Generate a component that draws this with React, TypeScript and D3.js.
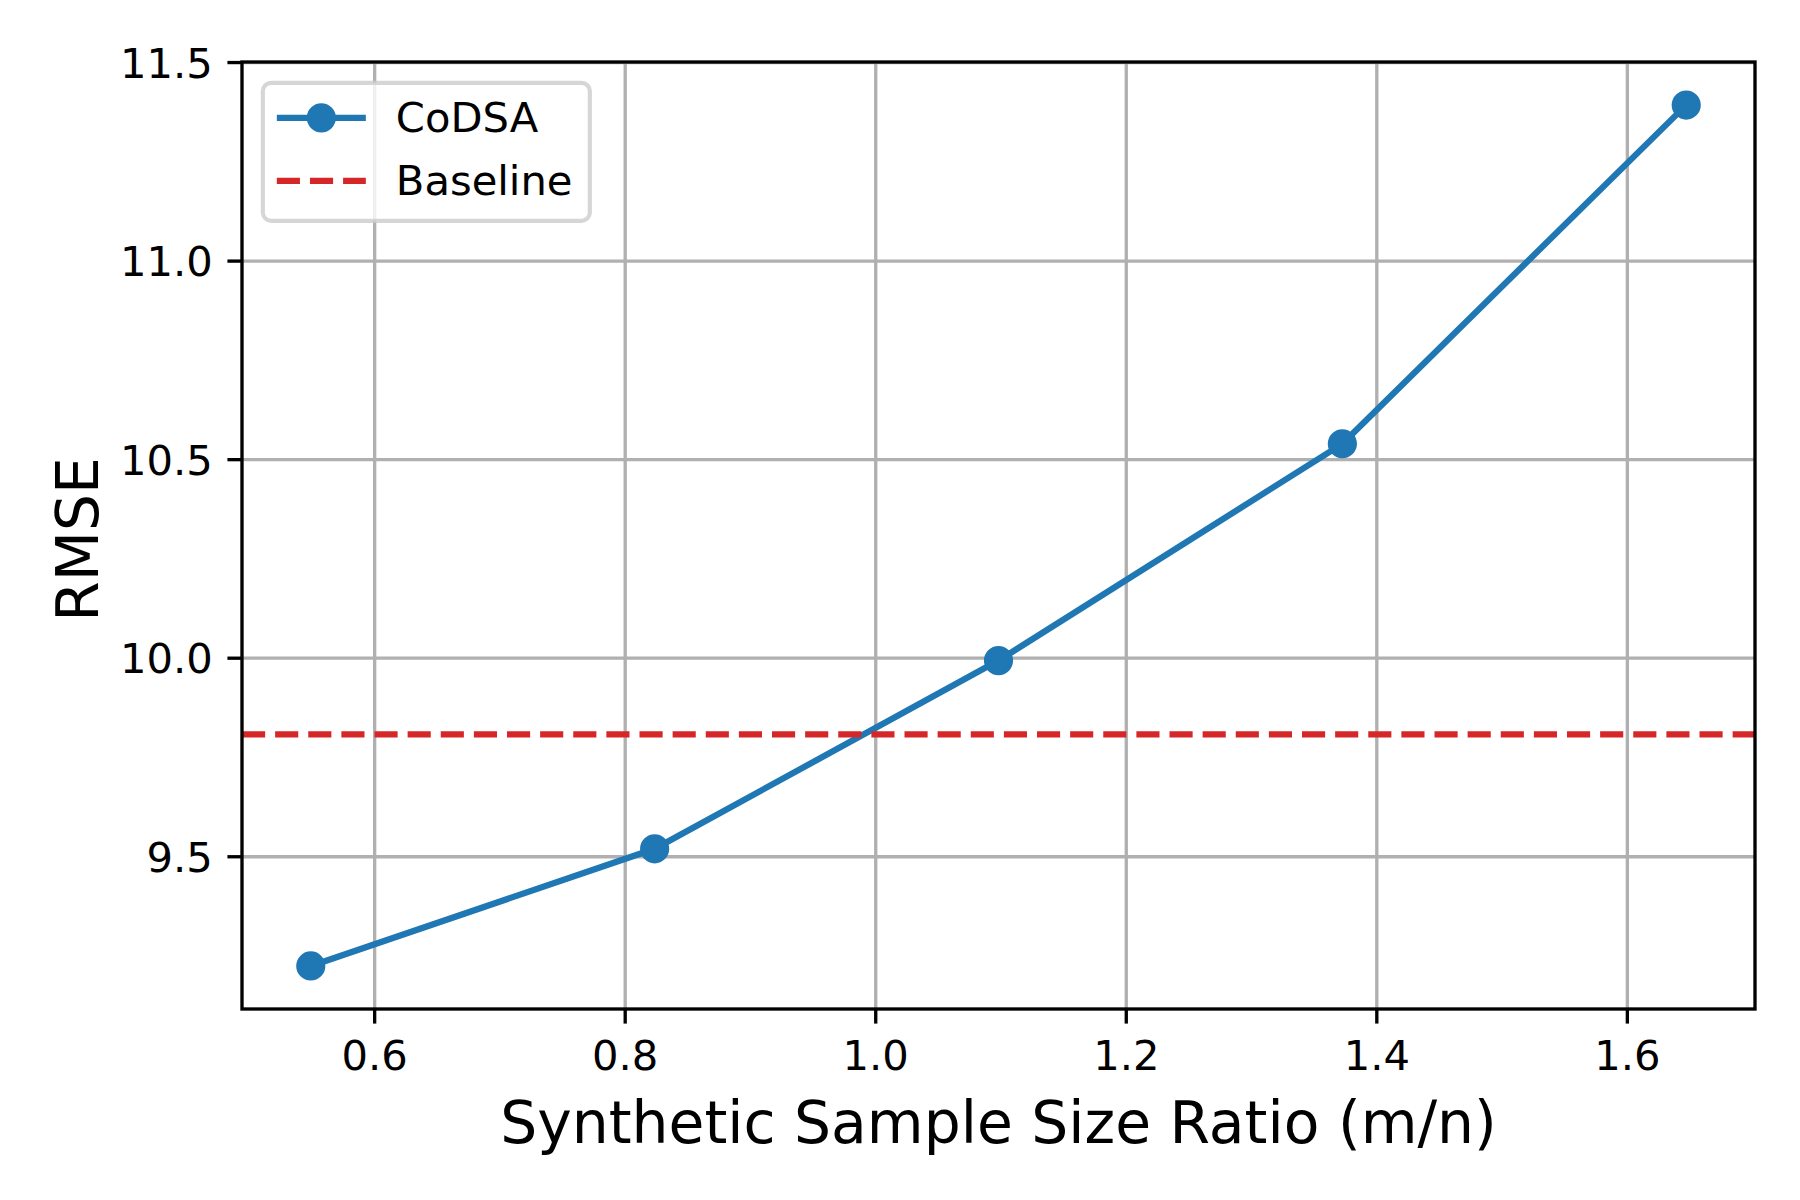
import React from "react";
import * as d3 from "d3";

const ratios = [0.549, 0.8235, 1.098, 1.3725, 1.647];
const codsaRmse = [9.225, 9.52, 9.994, 10.54, 11.393];
const baselineRmse = 9.808;
const xTicks = [0.6, 0.8, 1.0, 1.2, 1.4, 1.6];
const yTicks = [9.5, 10.0, 10.5, 11.0, 11.5];
const seriesNames = ["CoDSA", "Baseline"];
const xLabel = "Synthetic Sample Size Ratio (m/n)";
const yLabel = "RMSE";

const W = 1800;
const H = 1200;
const M = { left: 242, right: 1755, top: 62, bottom: 1009 };
const BLUE = "#1f77b4";
const RED = "#d62728";
const FONT = "DejaVu Sans, sans-serif";
const pt = 300 / 72;

function padded(ext: [number, number]): [number, number] {
  const s = ext[1] - ext[0];
  return [ext[0] - 0.05 * s, ext[1] + 0.05 * s];
}

export default function App() {
  const x = d3.scaleLinear().domain(padded(d3.extent(ratios) as [number, number])).range([M.left, M.right]);
  const y = d3.scaleLinear().domain(padded(d3.extent(codsaRmse) as [number, number])).range([M.bottom, M.top]);
  const pts = ratios.map((r, i) => [r, codsaRmse[i]] as [number, number]);
  const line = d3.line<[number, number]>().x((d) => x(d[0])).y((d) => y(d[1]));
  const tickLen = 3.5 * pt;
  const tickPad = 3.5 * pt;
  const tickFs = 10 * pt;
  const labelFs = 14 * pt;
  const lw = 1.5 * pt;
  const gridW = 0.8 * pt;
  const spineW = 0.8 * pt;

  // legend geometry
  const lgX = M.left + 0.5 * tickFs;
  const lgY = M.top + 0.5 * tickFs;
  const lgW = 327;
  const lgH = 138;
  const row1 = lgY + 35;
  const row2 = lgY + 98;
  const handleX0 = lgX + 14;
  const handleX1 = lgX + 103;
  const textX = lgX + 133;

  return (
    <svg width={W} height={H} style={{ position: "absolute", left: 0, top: 0, background: "#fff" }} fontFamily={FONT}>
      <rect x={0} y={0} width={W} height={H} fill="#fff" />
      {/* grid */}
      {xTicks.map((t) => (
        <line key={"gx" + t} x1={x(t)} x2={x(t)} y1={M.top} y2={M.bottom} stroke="#b0b0b0" strokeWidth={gridW} />
      ))}
      {yTicks.map((t) => (
        <line key={"gy" + t} x1={M.left} x2={M.right} y1={y(t)} y2={y(t)} stroke="#b0b0b0" strokeWidth={gridW} />
      ))}
      {/* CoDSA line */}
      <path d={line(pts) ?? ""} fill="none" stroke={BLUE} strokeWidth={lw} strokeLinecap="square" />
      {pts.map((d, i) => (
        <circle key={"m" + i} cx={x(d[0])} cy={y(d[1])} r={3 * pt} fill={BLUE} stroke={BLUE} strokeWidth={1 * pt} />
      ))}
      {/* baseline */}
      <line
        x1={M.left}
        x2={M.right}
        y1={y(baselineRmse)}
        y2={y(baselineRmse)}
        stroke={RED}
        strokeWidth={lw}
        strokeDasharray={`${3.7 * 1.5 * pt} ${1.6 * 1.5 * pt}`}
      />
      {/* spines */}
      <rect
        x={M.left}
        y={M.top}
        width={M.right - M.left}
        height={M.bottom - M.top}
        fill="none"
        stroke="#000"
        strokeWidth={spineW}
        strokeLinejoin="miter"
      />
      {/* x ticks */}
      {xTicks.map((t) => (
        <g key={"xt" + t}>
          <line x1={x(t)} x2={x(t)} y1={M.bottom} y2={M.bottom + tickLen} stroke="#000" strokeWidth={spineW} />
          <text x={x(t)} y={M.bottom + tickLen + tickPad + 0.76 * tickFs} fontSize={tickFs} textAnchor="middle" fill="#000">
            {d3.format(".1f")(t)}
          </text>
        </g>
      ))}
      {/* y ticks */}
      {yTicks.map((t) => (
        <g key={"yt" + t}>
          <line x1={M.left - tickLen} x2={M.left} y1={y(t)} y2={y(t)} stroke="#000" strokeWidth={spineW} />
          <text x={M.left - tickLen - tickPad} y={y(t) + 0.36 * tickFs} fontSize={tickFs} textAnchor="end" fill="#000">
            {d3.format(".1f")(t)}
          </text>
        </g>
      ))}
      {/* axis labels */}
      <text x={(M.left + M.right) / 2} y={1143} fontSize={labelFs} textAnchor="middle" fill="#000">
        {xLabel}
      </text>
      <text
        transform={`translate(98, ${(M.top + M.bottom) / 2 + 4}) rotate(-90)`}
        fontSize={labelFs}
        textAnchor="middle"
        fill="#000"
      >
        {yLabel}
      </text>
      {/* legend */}
      <rect
        x={lgX}
        y={lgY}
        width={lgW}
        height={lgH}
        rx={0.2 * tickFs}
        ry={0.2 * tickFs}
        fill="#fff"
        fillOpacity={0.8}
        stroke="#cccccc"
        strokeOpacity={0.8}
        strokeWidth={1 * pt}
      />
      <line x1={handleX0} x2={handleX1} y1={row1} y2={row1} stroke={BLUE} strokeWidth={lw} />
      <circle cx={(handleX0 + handleX1) / 2} cy={row1} r={3 * pt} fill={BLUE} stroke={BLUE} strokeWidth={1 * pt} />
      <text x={textX} y={row1 + 0.33 * tickFs} fontSize={tickFs} fill="#000">
        {seriesNames[0]}
      </text>
      <line
        x1={handleX0}
        x2={handleX1}
        y1={row2}
        y2={row2}
        stroke={RED}
        strokeWidth={lw}
        strokeDasharray={`${3.7 * 1.5 * pt} ${1.6 * 1.5 * pt}`}
      />
      <text x={textX} y={row2 + 0.33 * tickFs} fontSize={tickFs} fill="#000">
        {seriesNames[1]}
      </text>
    </svg>
  );
}
